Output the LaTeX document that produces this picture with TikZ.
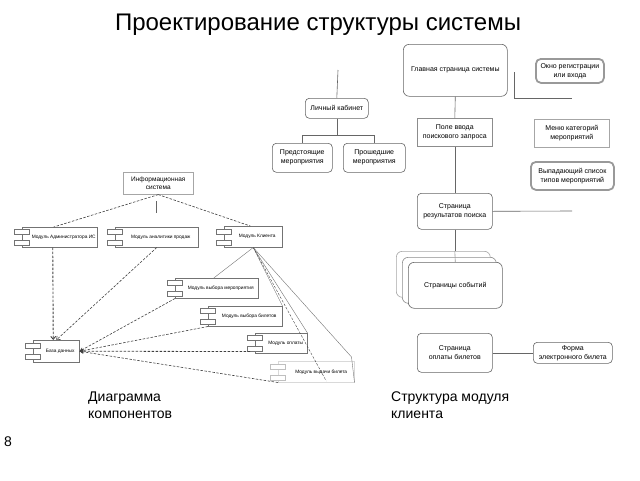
\documentclass[tikz,border=0pt]{standalone}
\usepackage{fontspec}
\setmainfont{Liberation Sans}
\usetikzlibrary{arrows.meta,calc}
\begin{document}
\begin{tikzpicture}[x=1pt,y=-1pt,
  ln/.style={draw=black!60, line width=0.6pt},
  tln/.style={draw=black!55, line width=0.4pt},
  dln/.style={draw=black!75, line width=0.6pt, dash pattern=on 2.5pt off 1.5pt},
  comp/.style={draw=black!55, line width=0.5pt, fill=white, anchor=north west, inner sep=0pt,
    font=\fontsize{4.8}{6}\selectfont, align=center},
  icon/.style={draw=black!55, line width=0.4pt, fill=white},
  rbox/.style={draw=black!60, line width=0.6pt, rounded corners=4pt, fill=white, anchor=north west,
    inner sep=0pt, align=center, font=\fontsize{7}{9}\selectfont},
  sbox/.style={rbox, rounded corners=0pt, draw=black!45},
  hbox/.style={rbox, draw=black!40, line width=1.8pt, rounded corners=5pt},
  bigtxt/.style={font=\fontsize{24}{28}\selectfont},
  captxt/.style={font=\fontsize{14}{17}\selectfont, align=left, anchor=north west, inner sep=0pt}
]
\useasboundingbox (0,0) rectangle (640,480);

% title, captions
\node[bigtxt] (title) at (318,25) {Проектирование структуры системы};
\node[captxt] (cap1) at (88,392) {Диаграмма\\компонентов};
\node[captxt] (cap2) at (391,392) {Структура модуля\\клиента};
\node[font=\fontsize{14}{16}\selectfont] (pnum) at (8,442) {8};

% ---------- left: component diagram ----------
\node[sbox, draw=black!35, font=\fontsize{6.5}{8}\selectfont, minimum width=70, minimum height=22] (info) at (123,172) {Информационная\\система};
\node[comp, minimum width=75, minimum height=20] (adm) at (22,227) {\hspace{8pt}Модуль Администратора ИС};
\node[comp, minimum width=83, minimum height=20] (ana) at (115,227) {\hspace{8pt}Модуль аналитики продаж};
\node[comp, minimum width=58, minimum height=21] (cli) at (224,226) {\hspace{8pt}Модуль Клиента};
\node[comp, minimum width=83, minimum height=20] (ev) at (175,278) {\hspace{8pt}Модуль выбора мероприятия};
\node[comp, minimum width=74, minimum height=20] (tk) at (208,306) {\hspace{8pt}Модуль выбора билетов};
\node[comp, minimum width=52, minimum height=20] (pay) at (255,333) {\hspace{9pt}Модуль оплаты};
\node[comp, draw=black!15, minimum width=76, minimum height=21] (iss) at (278,361) {\hspace{10pt}Модуль выдачи билета};
\node[comp, minimum width=46, minimum height=22] (db) at (33,340) {\hspace{8pt}База данных};

\foreach \n in {adm,ana,cli,ev,tk,pay,db}{
  \draw[icon] ($(\n.west)+(-8,-8)$) rectangle ++(15,5);
  \draw[icon] ($(\n.west)+(-8,3)$) rectangle ++(15,5);
}
\draw[icon, draw=black!25] ($(iss.west)+(-8,-8)$) rectangle ++(15,5);
\draw[icon, draw=black!25] ($(iss.west)+(-8,3)$) rectangle ++(15,5);

\draw[dln] (info.south) -- ($(adm.north)+(-6,0)$);
\draw[dln] (info.south) -- ($(cli.north)+(-3,0)$);
\coordinate (s1) at (156,201);
\coordinate (s2) at (156,213);
\draw[ln] (s1) -- (s2);

\draw[dln, line width=0.9pt, -{Straight Barb[length=3pt,width=5pt]}] ($(adm.south)+(-7,0)$) -- ($(db.north)+(-3,0)$);
\draw[dln, -{Straight Barb[length=3pt,width=5pt]}] (ana.south) -- (db.north);
\draw[dln, -{Stealth[length=4pt,width=4pt]}] (ev.south west) -- (db.east);
\draw[dln, -{Stealth[length=4pt,width=4pt]}] (tk.south west) -- (db.east);
\draw[dln, line width=0.8pt, -{Stealth[length=4pt,width=4pt]}] ($(pay.south west)+(-5,-2)$) -- (db.east);
\draw[dln, -{Stealth[length=4pt,width=4pt]}] (iss.south west) -- (db.east);

\draw[tln] (cli.south) -- ($(ev.north)+(-3,0)$);
\draw[tln] (cli.south) -- (tk.north east);
\draw[tln] (cli.south) -- (pay.north east);
\draw[tln] (cli.south) -- ($(iss.north east)+(-3,-4)$) -- (iss.south east);
\draw[dln, line width=0.4pt] (cli.south) -- ($(iss.north)+(10,20)$);

% ---------- right: client module structure ----------
\node[rbox, minimum width=63, minimum height=20] (lk) at (305,98) {Личный кабинет};
\node[rbox, minimum width=60, minimum height=29] (pred) at (272,143) {Предстоящие\\мероприятия};
\node[rbox, minimum width=62, minimum height=29] (prosh) at (343,143) {Прошедшие\\мероприятия};
\node[rbox, rounded corners=6pt, minimum width=104, minimum height=52] (main) at (403,44) {Главная страница системы};
\node[sbox, minimum width=75, minimum height=28] (pole) at (417,118) {Поле ввода\\поискового запроса};
\node[rbox, minimum width=75, minimum height=36] (res) at (417,193) {Страница\\результатов поиска};
\node[rbox, draw=black!35, rounded corners=6pt, minimum width=94, minimum height=46] (evb2) at (396,251) {};
\node[rbox, draw=black!45, rounded corners=6pt, minimum width=94, minimum height=46] (evb1) at (402,257) {};
\node[rbox, rounded corners=6pt, minimum width=94, minimum height=46] (evs) at (408,262) {Страницы событий};
\node[rbox, minimum width=75, minimum height=39] (opl) at (417,333) {Страница\\оплаты билетов};
\node[rbox, minimum width=79, minimum height=21] (forma) at (533,342) {Форма\\электронного билета};
\node[hbox, minimum width=68, minimum height=24] (okno) at (535,58) {Окно регистрации\\или входа};
\node[sbox, draw=black!35, minimum width=75, minimum height=28] (menu) at (534,119) {Меню категорий\\мероприятий};
\node[hbox, minimum width=83, minimum height=28] (vyp) at (530,161) {Выпадающий список\\типов мероприятий};

\coordinate (lktop) at (338,70);
\draw[ln] (lktop) -- (lk.north);
\draw[ln] (lk.south) -- ++(0,17) -| (pred.north);
\draw[ln] (lk.south) -- ++(0,17) -| (prosh.north);
\draw[ln] (main.south) -- (pole.north);
\coordinate (c1) at (514,72);
\coordinate (c2) at (572,98);
\draw[ln] (c1) |- (c2);
\draw[ln] (pole.south) -- (res.north);
\coordinate (c3) at (572,211);
\draw[ln] (res.east) -- (c3);
\draw[ln] (res.south) -- (res.south |- evb2.north);
\draw[ln, draw=black!40] (res.south |- evb2.north) -- (evs.north);
\draw[ln] (opl.east) -- (forma.west);
\end{tikzpicture}
\end{document}
